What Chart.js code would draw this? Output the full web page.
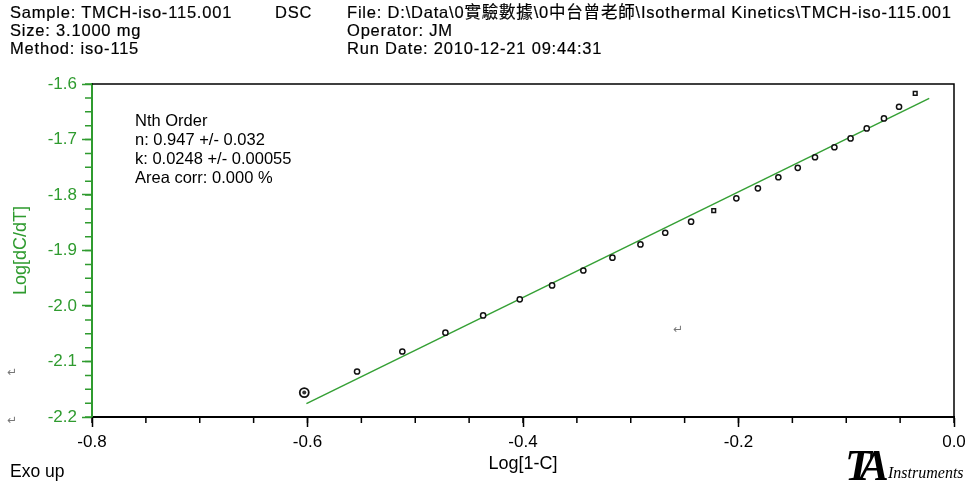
<!DOCTYPE html>
<html>
<head>
<meta charset="utf-8">
<script src="https://cdn.jsdelivr.net/npm/chart.js@4.4.1/dist/chart.umd.min.js"></script>
<style>
  body { margin: 0; background: #fff; width: 973px; height: 483px; overflow: hidden; position: relative;
         font-family: "Liberation Sans", Arial, "Noto Sans CJK TC", sans-serif; }
  #chart { position: absolute; left: 0; top: 0; }
  .txt { position: absolute; white-space: nowrap; color: #000; }
  .head { font-size: 16.5px; letter-spacing: 0.8px; line-height: 18px; -webkit-text-stroke: 0.2px #000; }
  .note { font-size: 16.5px; line-height: 19px; left: 135px; top: 111px; }
  .ret { font-family: "DejaVu Sans", sans-serif; font-size: 12px; color: #777; }
  .ta { font-family: "Liberation Serif", serif; font-style: italic; }
</style>
</head>
<body>
<canvas id="chart" width="973" height="483"></canvas>

<div class="txt head" style="left:10px; top:3px;">Sample: TMCH-iso-115.001<br>Size: 3.1000 mg<br>Method: iso-115</div>
<div class="txt head" style="left:275px; top:3px;">DSC</div>
<div class="txt head" style="left:347px; top:3px;">File: D:\Data\0實驗數據\0中台曾老師\Isothermal Kinetics\TMCH-iso-115.001<br>Operator: JM<br>Run Date: 2010-12-21 09:44:31</div>

<div class="txt note">Nth Order<br>n: 0.947 +/- 0.032<br>k: 0.0248 +/- 0.00055<br>Area corr: 0.000 %</div>

<div class="txt" style="left:10px; top:461px; font-size:17.5px;">Exo up</div>
<div class="txt ta" style="left:845px; top:440px; font-size:44px; font-weight:bold; letter-spacing:-10px;">TA</div>
<div class="txt ta" style="left:888px; top:464px; font-size:16px;">Instruments</div>

<div class="txt ret" style="left:7px; top:365px;">↵</div>
<div class="txt ret" style="left:7px; top:413px;">↵</div>
<div class="txt ret" style="left:673px; top:322px;">↵</div>

<script>
// Log[1-C] vs Log[dC/dT]
const logOneMinusC = [-0.603, -0.554, -0.512, -0.472, -0.437, -0.403, -0.373, -0.344, -0.317, -0.291, -0.268, -0.244,
                      -0.223, -0.202, -0.182, -0.163, -0.145, -0.129, -0.111, -0.096, -0.081, -0.065, -0.051, -0.036];
const logRate = [-2.156, -2.118, -2.082, -2.048, -2.017, -1.988, -1.963, -1.936, -1.913, -1.889, -1.868, -1.848,
                 -1.828, -1.806, -1.788, -1.768, -1.751, -1.732, -1.714, -1.698, -1.680, -1.662, -1.641, -1.617];
// nth order fit line end points
const fitX = [-0.601, -0.023];
const fitY = [-2.176, -1.626];
const xTickValues = [-0.8, -0.6, -0.4, -0.2, 0.0];
const yTickValues = [-2.2, -2.1, -2.0, -1.9, -1.8, -1.7, -1.6];

const green = "#2f9b2f";
const squarePoints = [12, 23];

Chart.defaults.font.family = "'Liberation Sans', Arial, sans-serif";

// minor ticks + top/right frame + ring on first point
const frameAndMinor = {
  id: "frameAndMinor",
  afterDraw(chart) {
    const c = chart.ctx;
    const a = chart.chartArea;
    const x = chart.scales.x;
    const y = chart.scales.y;
    c.save();
    c.lineWidth = 1.5;
    c.strokeStyle = "#000";
    c.beginPath();
    c.moveTo(a.left, a.top);
    c.lineTo(a.right, a.top);
    c.lineTo(a.right, a.bottom);
    for (let i = 0; i <= 16; i++) {
      const px = x.getPixelForValue(-0.8 + i * 0.05);
      c.moveTo(px, a.bottom);
      c.lineTo(px, a.bottom + 6);
    }
    c.stroke();
    c.strokeStyle = green;
    c.beginPath();
    for (let i = 0; i <= 24; i++) {
      const py = y.getPixelForValue(-2.2 + i * 0.025);
      c.moveTo(a.left, py);
      c.lineTo(a.left - 7, py);
    }
    c.stroke();
    // inner dot of the highlighted first point
    const p0 = chart.getDatasetMeta(1).data[0];
    c.fillStyle = "#333";
    c.beginPath();
    c.arc(p0.x, p0.y, 2, 0, Math.PI * 2);
    c.fill();
    c.restore();
  }
};

const points = logOneMinusC.map((v, i) => ({ x: v, y: logRate[i] }));
const fit = fitX.map((v, i) => ({ x: v, y: fitY[i] }));

new Chart(document.getElementById("chart"), {
  type: "scatter",
  data: {
    datasets: [
      {
        type: "line",
        data: fit,
        borderColor: "#35a035",
        borderWidth: 1.5,
        pointRadius: 0,
        order: 2
      },
      {
        data: points,
        borderColor: "#111",
        backgroundColor: "#fff",
        borderWidth: (ctx) => ctx.dataIndex === 0 ? 1.8 : 1.5,
        pointStyle: (ctx) => squarePoints.includes(ctx.dataIndex) ? "rect" : "circle",
        pointRadius: (ctx) => ctx.dataIndex === 0 ? 4.5 : 2.6,
        order: 1
      }
    ]
  },
  options: {
    responsive: false,
    animation: false,
    devicePixelRatio: 1,
    layout: { padding: { left: 10, top: 84, right: 19, bottom: 8 } },
    plugins: { legend: { display: false }, tooltip: { enabled: false } },
    scales: {
      x: {
        type: "linear",
        min: -0.8,
        max: 0,
        afterFit: (s) => { s.height = 58; },
        afterBuildTicks: (s) => { s.ticks = xTickValues.map((v) => ({ value: v })); },
        ticks: {
          autoSkip: false,
          maxRotation: 0,
          padding: 5,
          color: "#000",
          font: { size: 17 },
          callback: (v) => Number(v).toFixed(1)
        },
        grid: { drawOnChartArea: false, tickLength: 10, tickColor: "#000", tickWidth: 1.5 },
        border: { color: "#000", width: 2 },
        title: { display: true, text: "Log[1-C]", color: "#000", font: { size: 18 }, padding: { top: 0, bottom: 0 } }
      },
      y: {
        type: "linear",
        min: -2.2,
        max: -1.6,
        afterFit: (s) => { s.width = 82; },
        afterBuildTicks: (s) => { s.ticks = yTickValues.map((v) => ({ value: v })); },
        ticks: {
          autoSkip: false,
          padding: 5,
          color: green,
          font: { size: 17 },
          callback: (v) => Number(v).toFixed(1)
        },
        grid: { drawOnChartArea: false, tickLength: 10, tickColor: green, tickWidth: 1.5 },
        border: { color: green, width: 2 },
        title: { display: true, text: "Log[dC/dT]", color: green, font: { size: 18 }, padding: { top: 0, bottom: 0 } }
      }
    }
  },
  plugins: [frameAndMinor]
});
</script>
</body>
</html>
